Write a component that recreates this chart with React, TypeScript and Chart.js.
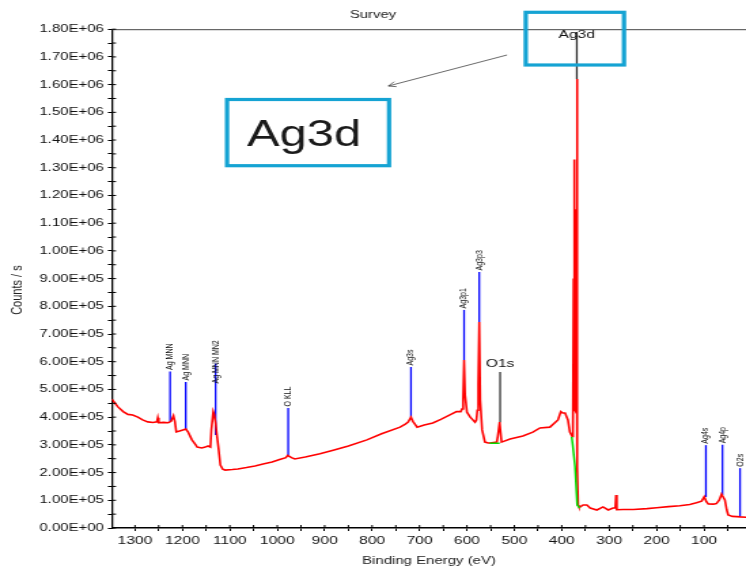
import React, { useEffect, useRef } from 'react';
import { Chart, registerables } from 'chart.js';

Chart.register(...registerables);

const FONT = "'Liberation Sans', Arial, Helvetica, sans-serif";
const CANVAS_W = 549;
const CANVAS_H = 569;
const STRETCH = 746 / CANVAS_W;

// Survey spectrum (binding energy eV, counts/s)
const spectrumEnergy = [
  1349, 1343, 1336, 1325, 1315, 1305, 1294, 1284, 1273, 1262, 1254, 1252, 1250, 1240, 1230, 1224, 1219, 1216, 1213,
  1206, 1199, 1193, 1188, 1180, 1172, 1169, 1159, 1152, 1146, 1141, 1139, 1135, 1133, 1130, 1127, 1124, 1120, 1115,
  1110, 1095, 1083, 1065, 1047, 1030, 1011, 995, 982, 978, 970, 963, 941, 910, 882, 850, 811, 780, 741, 730, 724,
  718, 714, 705, 690, 672, 655, 636, 622, 613, 610, 608, 606, 604, 600, 593, 583, 580, 578, 576, 574, 572, 568, 562,
  555, 551, 537, 535, 531, 529, 527, 509, 482, 461, 446, 425, 408, 402, 398, 393, 387, 383, 378, 376.5, 375, 374.3,
  373.5, 372.5, 370.5, 369.2, 368.3, 367.5, 366.8, 365.5, 364, 361, 355, 347, 340, 326, 313, 302, 292, 287, 285.5,
  284, 270, 249, 220, 200, 175, 151, 130, 116, 105, 99.5, 95, 91, 80, 74, 68, 63, 59, 56, 52, 49, 40, 31, 24, 11,
];
const spectrumCounts = [
  465000, 452000, 437000, 420000, 410000, 408000, 400000, 390000, 383000, 381000, 383000, 398000, 380000, 381000, 380000, 385000, 405000, 385000, 347000,
  350000, 354000, 357000, 346000, 318000, 300000, 292000, 289000, 292000, 296000, 292000, 354000, 420000, 410000, 379000, 330000, 289000, 227000, 212000,
  209000, 211000, 213000, 218000, 224000, 231000, 238000, 247000, 254000, 262000, 254000, 249000, 256000, 268000, 281000, 296000, 318000, 340000, 364000, 375000, 382000,
  400000, 385000, 364000, 372000, 379000, 392000, 408000, 420000, 420000, 430000, 469000, 606000, 480000, 418000, 400000, 382000, 390000, 425000, 520000, 743000, 462000, 354000, 310000,
  307000, 307000, 310000, 330000, 382000, 345000, 310000, 321000, 332000, 346000, 361000, 364000, 390000, 420000, 415000, 415000, 390000, 346000, 330000, 350000, 900000, 1330000,
  1150000, 430000, 420000, 1150000, 1620000, 1150000, 220000, 83000, 77000, 76000, 83000, 83000, 72000, 65000, 76000, 65000, 72000, 72000, 119000,
  66000, 67000, 67000, 70000, 73000, 77000, 80000, 85000, 91000, 97000, 113000, 95000, 87000, 86000, 88000, 100000, 122000, 110000, 101000, 65000, 47000, 42000, 41000, 40000, 39000,
];

// Background segments (green)
const backgroundEnergy = [552, 531, 450, 379, 376.8, 372, 367.5, 362];
const backgroundCounts = [306000, 306000, null, 329000, 298000, 221000, 83000, 72000];

// Peak identification markers
const markerNames = ['Ag MNN', 'Ag MNN', 'Ag MNN MN2', 'O KLL', 'Ag3s', 'Ag3p1', 'Ag3p3', 'O1s', 'Ag3d', 'Ag4s', 'Ag4p', 'O2s'];
const markerEnergy = [1226, 1193, 1130, 977, 718, 606, 574, 530, 368.3, 96, 61, 24];
const markerBase = [383000, 354000, 336000, 262000, 400000, 606000, 743000, 382000, 1620000, 112000, 119000, 40000];
const markerTop = [565000, 527000, 594000, 433000, 581000, 787000, 924000, 563000, 1790000, 299000, 300000, 216000];
const markerLabelAt = [565000, 527000, 516000, 433000, 581000, 787000, 924000, 592000, 1779000, 299000, 300000, 216000];
const markerHorizontal = [false, false, false, false, false, false, false, true, true, false, false, false];

// Axes
const xMajorTicks = [100, 200, 300, 400, 500, 600, 700, 800, 900, 1000, 1100, 1200, 1300];
const xMajorLabels = ['100', '200', '300', '400', '500', '600', '700', '800', '900', '1000', '1100', '1200', '1300'];
const xMinorTicks = [50, 150, 250, 350, 450, 550, 650, 750, 850, 950, 1050, 1150, 1250];
const yMajorTicks = [0, 100000, 200000, 300000, 400000, 500000, 600000, 700000, 800000, 900000, 1000000, 1100000, 1200000, 1300000, 1400000, 1500000, 1600000, 1700000, 1800000];
const yMajorLabels = ['0.00E+00', '1.00E+05', '2.00E+05', '3.00E+05', '4.00E+05', '5.00E+05', '6.00E+05', '7.00E+05', '8.00E+05', '9.00E+05', '1.00E+06', '1.10E+06', '1.20E+06', '1.30E+06', '1.40E+06', '1.50E+06', '1.60E+06', '1.70E+06', '1.80E+06'];
const yMinorTicks = [50000, 150000, 250000, 350000, 450000, 550000, 650000, 750000, 850000, 950000, 1050000, 1150000, 1250000, 1350000, 1450000, 1550000, 1650000, 1750000];
const xMin = 11.4;
const xMax = 1348.6;

const overlayPlugin = {
  id: 'xpsOverlay',
  beforeDatasetsDraw(chart: any) {
    const { ctx, scales } = chart;
    const x = scales.x;
    const y = scales.y;
    ctx.save();
    markerEnergy.forEach((e, i) => {
      const px = x.getPixelForValue(e);
      ctx.strokeStyle = markerHorizontal[i] ? '#333333' : '#0000ff';
      ctx.lineWidth = 1.3;
      ctx.beginPath();
      ctx.moveTo(px, y.getPixelForValue(markerBase[i]));
      ctx.lineTo(px, y.getPixelForValue(markerTop[i]));
      ctx.stroke();
    });
    ctx.restore();
  },
  afterDraw(chart: any) {
    const { ctx, scales, chartArea: ca } = chart;
    const x = scales.x;
    const y = scales.y;
    ctx.save();
    // top frame line
    ctx.strokeStyle = '#444';
    ctx.lineWidth = 1;
    ctx.beginPath();
    ctx.moveTo(ca.left, ca.top + 0.5);
    ctx.lineTo(ca.right, ca.top + 0.5);
    ctx.stroke();
    // inner half of crossing ticks
    ctx.strokeStyle = '#000';
    ctx.lineWidth = 1;
    [...yMajorTicks, ...yMinorTicks].forEach((v) => {
      const py = y.getPixelForValue(v);
      ctx.beginPath();
      ctx.moveTo(ca.left, py);
      ctx.lineTo(ca.left + 3, py);
      ctx.stroke();
    });
    [...xMajorTicks, ...xMinorTicks].forEach((v) => {
      const px = x.getPixelForValue(v);
      ctx.beginPath();
      ctx.moveTo(px, ca.bottom);
      ctx.lineTo(px, ca.bottom - 3);
      ctx.stroke();
    });
    // marker labels
    ctx.fillStyle = '#111';
    markerNames.forEach((name, i) => {
      const px = x.getPixelForValue(markerEnergy[i]);
      const py = y.getPixelForValue(markerLabelAt[i]);
      if (markerHorizontal[i]) {
        ctx.font = `11.5px ${FONT}`;
        ctx.textAlign = 'center';
        ctx.textBaseline = 'middle';
        ctx.fillText(name, px, py);
      } else {
        ctx.save();
        ctx.translate(px, py - 1.5);
        ctx.rotate(-Math.PI / 2);
        ctx.font = `7px ${FONT}`;
        ctx.textAlign = 'left';
        ctx.textBaseline = 'middle';
        ctx.fillText(name, 0, 0);
        ctx.restore();
      }
    });
    // y axis title
    ctx.save();
    ctx.translate(13.2, (ca.top + ca.bottom) / 2 + 11.5);
    ctx.rotate(-Math.PI / 2);
    ctx.font = `11px ${FONT}`;
    ctx.fillStyle = '#222';
    ctx.textAlign = 'center';
    ctx.textBaseline = 'middle';
    ctx.fillText('Counts / s', 0, 0);
    ctx.restore();
    // callout boxes
    ctx.strokeStyle = '#15a3d3';
    ctx.lineWidth = 3.2;
    ctx.strokeRect(167.1, 99.5, 286.3 - 167.1, 165.7 - 99.5);
    ctx.strokeRect(386.9, 12.3, 459.2 - 386.9, 65 - 12.3);
    ctx.fillStyle = '#1a1a1a';
    ctx.font = `36px ${FONT}`;
    ctx.textAlign = 'center';
    ctx.textBaseline = 'alphabetic';
    ctx.fillText('Ag3d', 223.8, 146);
    // arrow
    ctx.strokeStyle = '#444';
    ctx.lineWidth = 0.8;
    const x1 = 373.1, y1 = 55, x2 = 285.8, y2 = 86;
    ctx.beginPath();
    ctx.moveTo(x1, y1);
    ctx.lineTo(x2, y2);
    const ang = Math.atan2(y2 - y1, x2 - x1);
    ctx.moveTo(x2, y2);
    ctx.lineTo(x2 - 6 * Math.cos(ang - 0.45), y2 - 6 * Math.sin(ang - 0.45));
    ctx.moveTo(x2, y2);
    ctx.lineTo(x2 - 6 * Math.cos(ang + 0.45), y2 - 6 * Math.sin(ang + 0.45));
    ctx.stroke();
    ctx.restore();
  },
};

export default function App() {
  const ref = useRef<HTMLCanvasElement>(null);
  useEffect(() => {
    if (!ref.current) return;
    Chart.defaults.font.family = FONT;
    const chart = new Chart(ref.current, {
      type: 'line',
      data: {
        datasets: [
          {
            label: 'Background',
            data: backgroundEnergy.map((e, i) => ({ x: e, y: backgroundCounts[i] })),
            borderColor: '#00dd00',
            borderWidth: 1.5,
            pointRadius: 0,
            tension: 0,
            spanGaps: false,
            fill: false,
          },
          {
            label: 'Survey',
            data: spectrumEnergy.map((e, i) => ({ x: e, y: spectrumCounts[i] })),
            borderColor: '#ff0000',
            borderWidth: 1.6,
            pointRadius: 0,
            tension: 0,
            fill: false,
          },
        ],
      },
      options: {
        responsive: false,
        animation: false,
        devicePixelRatio: 1,
        layout: { padding: { top: 0, left: 0, right: 0, bottom: 0 } },
        plugins: {
          legend: { display: false },
          tooltip: { enabled: false },
          title: {
            display: true,
            text: 'Survey',
            color: '#222',
            font: { size: 11, weight: 'normal', family: FONT },
            padding: { top: 8, bottom: 8 },
          },
        },
        scales: {
          x: {
            type: 'linear',
            reverse: true,
            min: xMin,
            max: xMax,
            afterBuildTicks: (s: any) => {
              s.ticks = [...xMinorTicks, ...xMajorTicks].sort((a, b) => a - b).map((v) => ({ value: v }));
            },
            afterFit: (s: any) => {
              s.height = 41;
            },
            ticks: {
              autoSkip: false,
              maxRotation: 0,
              padding: 3,
              color: '#111',
              font: { size: 11.5, family: FONT },
              callback: (v: any) => {
                const i = xMajorTicks.indexOf(Number(v));
                return i >= 0 ? xMajorLabels[i] : '';
              },
            },
            grid: { drawOnChartArea: false, drawTicks: true, tickLength: 3, tickColor: '#000', lineWidth: 1 },
            border: { display: true, color: '#000', width: 1.5 },
            title: {
              display: true,
              text: 'Binding Energy (eV)',
              color: '#222',
              font: { size: 11, family: FONT },
              padding: { top: 0, bottom: 1 },
            },
          },
          y: {
            type: 'linear',
            min: 0,
            max: 1800000,
            afterBuildTicks: (s: any) => {
              s.ticks = [...yMinorTicks, ...yMajorTicks].sort((a, b) => a - b).map((v) => ({ value: v }));
            },
            afterFit: (s: any) => {
              s.width = 82.4;
            },
            ticks: {
              autoSkip: false,
              padding: 3,
              color: '#111',
              font: { size: 11, family: FONT },
              callback: (v: any) => {
                const i = yMajorTicks.indexOf(Number(v));
                return i >= 0 ? yMajorLabels[i] : '';
              },
            },
            grid: { drawOnChartArea: false, drawTicks: true, tickLength: 3, tickColor: '#000', lineWidth: 1 },
            border: { display: true, color: '#000', width: 1.3 },
          },
        },
      },
      plugins: [overlayPlugin],
    } as any);
    return () => chart.destroy();
  }, []);

  return (
    <div style={{ position: 'fixed', left: 0, top: 0, width: 746, height: 569, overflow: 'hidden', background: '#fff' }}>
      <div style={{ width: CANVAS_W, height: CANVAS_H, transform: `scaleX(${STRETCH})`, transformOrigin: '0 0' }}>
        <canvas ref={ref} width={CANVAS_W} height={CANVAS_H} style={{ display: 'block' }} />
      </div>
    </div>
  );
}
